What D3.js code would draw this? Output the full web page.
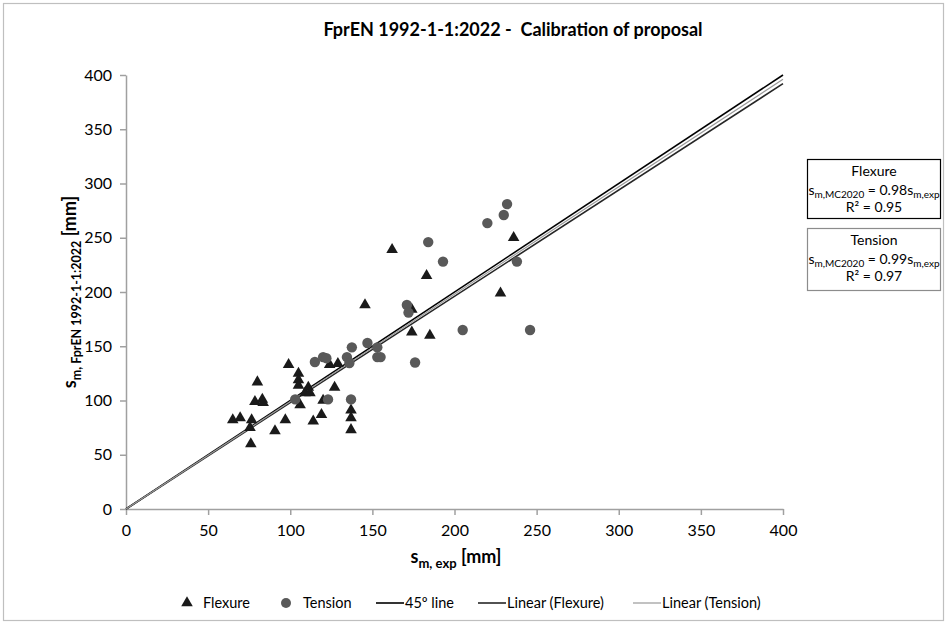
<!DOCTYPE html>
<html><head><meta charset="utf-8">
<script src="https://cdn.jsdelivr.net/npm/d3@7"></script>
<style>
body{margin:0;background:#fff}
svg{display:block}
text{font-family:Lato,"Open Sans",sans-serif;fill:#000}
</style>
</head><body>
<svg id="chart" width="947" height="624"></svg>
<script>
// Measured crack spacing: experimental (x) vs. FprEN 1992-1-1:2022 prediction (y), in mm
const flexureX = [65, 69.5, 76.5, 75.5, 76, 78.5, 80, 83, 83.5, 90.7, 97, 99, 105, 105, 105, 106, 109, 111, 112, 114, 119, 120, 124, 127, 129, 137, 137, 137, 145.5, 162, 174, 174, 183, 185, 228, 236];
const flexureY = [82, 84, 82, 75, 60, 99, 117, 101, 98, 72, 82, 133, 125, 119, 114, 96, 107, 112, 107, 81, 87, 100, 133, 112, 134, 91, 84, 73, 188, 239, 163, 184, 215, 160, 199, 250];
const tensionX = [103, 115, 120, 122, 123, 134.5, 136, 137.5, 137, 147, 153, 153, 155, 171, 172, 176, 184, 193, 205, 220, 230, 232, 238, 246];
const tensionY = [101, 135.5, 140, 139, 101, 140, 134.5, 149, 101, 153, 149, 140, 140, 188, 181, 135, 246, 228, 165, 263.5, 271, 281, 228, 165];
const xTicks = [0, 50, 100, 150, 200, 250, 300, 350, 400];
const yTicks = [0, 50, 100, 150, 200, 250, 300, 350, 400];
// Reference line and linear fits through the origin
const lineNames = ["45º line", "Linear (Flexure)", "Linear (Tension)"];
const lineSlopes = [1.00, 0.98, 0.99];
const lineColors = ["#000000", "#262626", "#999999"];
const lineWidths = [1.6, 1.6, 1.2];

const svg = d3.select("#chart");
const W = 947, H = 624;
const plot = {left: 126, right: 783, top: 75, bottom: 509};

// chart frame
svg.append("rect").attr("x", 3.5).attr("y", 3.5).attr("width", W - 7).attr("height", H - 7)
  .attr("fill", "#fff").attr("stroke", "#bfbfbf").attr("stroke-width", 1.2);

const x = d3.scaleLinear().domain([0, 400]).range([plot.left, plot.right]);
const y = d3.scaleLinear().domain([0, 400]).range([plot.bottom, plot.top]);

// title
svg.append("text").attr("x", 513).attr("y", 36).attr("text-anchor", "middle")
  .style("font-size", "18px").style("font-weight", "bold").style("white-space", "pre")
  .text("FprEN 1992-1-1:2022 -  Calibration of proposal");

// axes
const xAxis = svg.append("g").attr("transform", `translate(0,${plot.bottom})`)
  .call(d3.axisBottom(x).tickValues(xTicks).tickSize(6).tickSizeOuter(0).tickPadding(10));
const yAxis = svg.append("g").attr("transform", `translate(${plot.left},0)`)
  .call(d3.axisLeft(y).tickValues(yTicks).tickSize(6).tickSizeOuter(0).tickPadding(8));
[xAxis, yAxis].forEach(g => {
  g.select(".domain").attr("stroke", "#a0a0a0").attr("stroke-width", 1.5);
  g.selectAll(".tick line").attr("stroke", "#a0a0a0").attr("stroke-width", 1.5);
  g.selectAll(".tick text").style("font-size", "16px").style("font-family", "Lato,sans-serif").attr("fill", "#1a1a1a");
});

// axis titles with subscripts
const xt = svg.append("text").attr("x", 456).attr("y", 563).attr("text-anchor", "middle")
  .style("font-size", "18px").style("font-weight", "bold");
xt.append("tspan").text("s");
xt.append("tspan").attr("dy", 5).style("font-size", "13px").text("m, exp");
xt.append("tspan").attr("dy", -5).text(" [mm]");

const yt = svg.append("text").attr("transform", `translate(76,292) rotate(-90)`).attr("text-anchor", "middle")
  .style("font-size", "18px").style("font-weight", "bold");
yt.append("tspan").text("s");
yt.append("tspan").attr("dy", 5).style("font-size", "12.5px").text("m, FprEN 1992-1-1:2022");
yt.append("tspan").attr("dy", -5).text(" [mm]");

// lines through origin
const linesG = svg.append("g");
lineSlopes.forEach((k, i) => {
  linesG.append("line")
    .attr("x1", x(0)).attr("y1", y(0)).attr("x2", x(400)).attr("y2", y(400 * k))
    .attr("stroke", lineColors[i]).attr("stroke-width", lineWidths[i]);
});

// markers
const tri = d3.symbol().type(d3.symbolTriangle).size(58);
const flexure = d3.zip(flexureX, flexureY);
const tension = d3.zip(tensionX, tensionY);
svg.append("g").selectAll("path").data(flexure).join("path")
  .attr("d", tri).attr("transform", d => `translate(${x(d[0])},${y(d[1])})`).attr("fill", "#1a1a1a");
svg.append("g").selectAll("circle").data(tension).join("circle")
  .attr("cx", d => x(d[0])).attr("cy", d => y(d[1])).attr("r", 5.2).attr("fill", "#595959");

// equation boxes
function eqBox(top, h, stroke, name, coef, r2) {
  const g = svg.append("g");
  g.append("rect").attr("x", 807.5).attr("y", top + 0.5).attr("width", 133).attr("height", h)
    .attr("fill", "#fff").attr("stroke", stroke).attr("stroke-width", 1.2);
  g.append("text").attr("x", 874).attr("y", top + 17).attr("text-anchor", "middle").style("font-size", "14px").text(name);
  const e = g.append("text").attr("x", 874).attr("y", top + 36).attr("text-anchor", "middle").style("font-size", "14px");
  e.append("tspan").text("s");
  e.append("tspan").attr("dy", 3).style("font-size", "10px").text("m,MC2020");
  e.append("tspan").attr("dy", -3).text(` = ${coef}s`);
  e.append("tspan").attr("dy", 3).style("font-size", "10px").text("m,exp");
  const r = g.append("text").attr("x", 874).attr("y", top + 53).attr("text-anchor", "middle").style("font-size", "14px");
  r.append("tspan").text("R² = " + r2);
}
eqBox(159, 59, "#000", "Flexure", "0.98", "0.95");
eqBox(228, 62, "#8c8c8c", "Tension", "0.99", "0.97");

// bottom legend
const lg = svg.append("g").style("font-size", "14.5px");
const ly = 603;
lg.append("path").attr("d", tri).attr("transform", `translate(187,${ly})`).attr("fill", "#1a1a1a");
lg.append("text").attr("x", 203).attr("y", ly + 5).text("Flexure");
lg.append("circle").attr("cx", 286).attr("cy", ly).attr("r", 5).attr("fill", "#595959");
lg.append("text").attr("x", 303).attr("y", ly + 5).text("Tension");
const lxs = [376, 478, 633];
lineNames.forEach((n, i) => {
  lg.append("line").attr("x1", lxs[i]).attr("x2", lxs[i] + 28).attr("y1", ly).attr("y2", ly)
    .attr("stroke", lineColors[i]).attr("stroke-width", lineWidths[i]);
  lg.append("text").attr("x", lxs[i] + 29).attr("y", ly + 5).text(n);
});
</script>
</body></html>
